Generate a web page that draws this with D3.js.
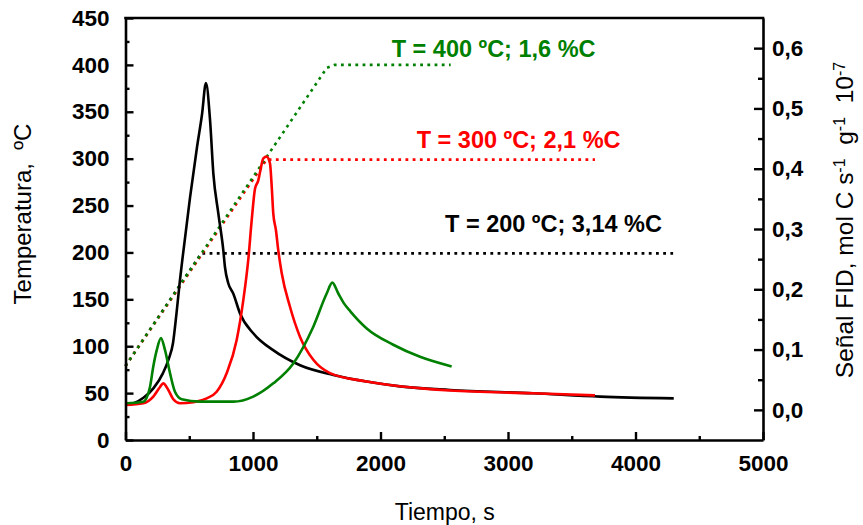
<!DOCTYPE html>
<html><head><meta charset="utf-8">
<script src="https://cdn.jsdelivr.net/npm/d3@7"></script>
<style>body{margin:0;background:#fff}svg{display:block}</style>
</head><body>
<svg id="c" width="863" height="525"></svg>
<script>
// ---- tick values ----
const xTicks = [0, 1000, 2000, 3000, 4000, 5000];
const xMinor = [500, 1500, 2500, 3500, 4500];
const yLeftTicks = [0, 50, 100, 150, 200, 250, 300, 350, 400, 450];
const yLeftMinor = [25, 75, 125, 175, 225, 275, 325, 375, 425];
const yRightTicks = [0, 0.1, 0.2, 0.3, 0.4, 0.5, 0.6];
const yRightMinor = [0.05, 0.15, 0.25, 0.35, 0.45, 0.55];

// ---- temperature programmes (left axis, ºC) ----
const temp200Time = [0, 594, 4295];
const temp200Val  = [79, 199, 199];
const temp300Time = [0, 1107, 3682];
const temp300Val  = [79, 299, 299];
const temp400Time = [0, 1580, 1640, 2550];
const temp400Val  = [79, 397, 400, 400];

// ---- FID signal (right axis) ----
const fid200Time = [0, 65, 141, 220, 294, 340, 372, 400, 427, 451, 506, 561, 600, 631, 663, 689, 728, 767, 780, 806, 845, 898, 1002, 1158, 1369, 1630, 1891, 2153, 2545, 3196, 3723, 4300];
const fid200Val  = [0.008, 0.011, 0.02, 0.036, 0.061, 0.085, 0.11, 0.16, 0.215, 0.258, 0.352, 0.436, 0.49, 0.542, 0.481, 0.392, 0.326, 0.265, 0.237, 0.21, 0.193, 0.16, 0.127, 0.099, 0.074, 0.058, 0.047, 0.039, 0.033, 0.0275, 0.022, 0.019];
const fid300Time = [0, 140, 218, 271, 296, 336, 375, 427, 532, 637, 715, 794, 872, 924, 963, 990, 1016, 1042, 1055, 1081, 1107, 1133, 1147, 1159, 1180, 1198, 1225, 1290, 1369, 1473, 1604, 1892, 2545, 3196, 3682];
const fid300Val  = [0.008, 0.011, 0.022, 0.038, 0.044, 0.033, 0.0176, 0.011, 0.0126, 0.019, 0.030, 0.061, 0.116, 0.182, 0.249, 0.315, 0.367, 0.381, 0.394, 0.417, 0.42, 0.409, 0.37, 0.326, 0.298, 0.265, 0.227, 0.171, 0.121, 0.083, 0.061, 0.047, 0.032, 0.0275, 0.024];
const fid400Time = [0, 140, 192, 218, 245, 278, 310, 349, 388, 441, 584, 845, 1002, 1159, 1316, 1473, 1578, 1622, 1669, 1712, 1765, 1892, 2100, 2310, 2558];
const fid400Val  = [0.011, 0.0136, 0.038, 0.072, 0.099, 0.119, 0.099, 0.061, 0.030, 0.0176, 0.0136, 0.0136, 0.022, 0.044, 0.077, 0.138, 0.193, 0.211, 0.193, 0.177, 0.163, 0.135, 0.108, 0.088, 0.072];

// ---- labels ----
const annoTexts = ["T = 400 ºC; 1,6 %C", "T = 300 ºC; 2,1 %C", "T = 200 ºC; 3,14 %C"];
const seriesColors = ["#008000", "#ff0000", "#000000"];

const svg = d3.select("#c");
const X0 = 125.5, X1 = 763, Y0 = 440, Y1 = 18;
const x = d3.scaleLinear().domain([0, 5000]).range([X0, X1]);
const yL = d3.scaleLinear().domain([0, 450]).range([Y0, Y1]);
const yR = d3.scaleLinear().domain([-0.05, 0.65]).range([Y0, Y1]);

const zip = (t, v) => t.map((d, i) => [d, v[i]]);
const lineL = d3.line().x(d => x(d[0])).y(d => yL(d[1]));
const lineR = d3.line().x(d => x(d[0])).y(d => yR(d[1])).curve(d3.curveMonotoneX);

const FONT = "'Liberation Sans', Arial, sans-serif";

// temperature dotted lines
const temps = [
  [temp200Time, temp200Val, "#000000"],
  [temp300Time, temp300Val, "#ff0000"],
  [temp400Time, temp400Val, "#008000"]
];
temps.forEach(([t, v, c]) => {
  svg.append("path").attr("d", lineL(zip(t, v)))
    .attr("fill", "none").attr("stroke", c).attr("stroke-width", 2.6)
    .attr("stroke-dasharray", "2.8,4.4");
});

// FID curves
const fids = [
  [fid200Time, fid200Val, "#000000"],
  [fid300Time, fid300Val, "#ff0000"],
  [fid400Time, fid400Val, "#008000"]
];
fids.forEach(([t, v, c]) => {
  svg.append("path").attr("d", lineR(zip(t, v)))
    .attr("fill", "none").attr("stroke", c).attr("stroke-width", 2.6)
    .attr("stroke-linejoin", "round");
});

function styleAxis(g, fs) {
  g.select(".domain").attr("stroke", "#000").attr("stroke-width", 2.6);
  g.selectAll(".tick line").attr("stroke", "#000").attr("stroke-width", 2.4);
  g.selectAll("text").attr("font-family", FONT).attr("font-weight", "bold")
    .attr("font-size", fs).attr("fill", "#000");
}

// minor ticks
svg.append("g").attr("transform", `translate(${X0},0)`)
  .call(d3.axisLeft(yL).tickValues(yLeftMinor).tickSize(-4).tickSizeOuter(0).tickFormat(""))
  .call(g => { g.select(".domain").remove(); g.selectAll("line").attr("stroke", "#000").attr("stroke-width", 2.4); });
svg.append("g").attr("transform", `translate(${X1},0)`)
  .call(d3.axisRight(yR).tickValues(yRightMinor).tickSize(-5).tickSizeOuter(0).tickFormat(""))
  .call(g => { g.select(".domain").remove(); g.selectAll("line").attr("stroke", "#000").attr("stroke-width", 2.4); });
svg.append("g").attr("transform", `translate(0,${Y0})`)
  .call(d3.axisBottom(x).tickValues(xMinor).tickSize(-4).tickSizeOuter(0).tickFormat(""))
  .call(g => { g.select(".domain").remove(); g.selectAll("line").attr("stroke", "#000").attr("stroke-width", 2.4); });

// major axes
svg.append("g").attr("transform", `translate(${X0},0)`)
  .call(d3.axisLeft(yL).tickValues(yLeftTicks).tickSize(-8).tickSizeOuter(0).tickPadding(16).tickFormat(d3.format("d")))
  .call(g => styleAxis(g, 22.5));
svg.append("g").attr("transform", `translate(${X1},0)`)
  .call(d3.axisRight(yR).tickValues(yRightTicks).tickSize(-9).tickSizeOuter(0).tickPadding(9).tickFormat(d => d3.format(".1f")(d).replace(".", ",")))
  .call(g => styleAxis(g, 22.5));
svg.append("g").attr("transform", `translate(0,${Y0})`)
  .call(d3.axisBottom(x).tickValues(xTicks).tickSize(-8).tickSizeOuter(0).tickPadding(15).tickFormat(d3.format("d")))
  .call(g => styleAxis(g, 22.5));

// top frame
svg.append("line").attr("x1", X0 - 1.3).attr("x2", X1 + 1.3).attr("y1", Y1).attr("y2", Y1)
  .attr("stroke", "#000").attr("stroke-width", 2.6);

// axis titles
svg.append("text").attr("x", (X0 + X1) / 2 + 0.5).attr("y", 520)
  .attr("text-anchor", "middle").attr("font-family", FONT).attr("font-size", 23)
  .text("Tiempo, s");
svg.append("text").attr("transform", "translate(31,214) rotate(-90)")
  .attr("text-anchor", "middle").attr("font-family", FONT).attr("font-size", 24)
  .text("Temperatura, \u00a0ºC");
const rt = svg.append("text").attr("transform", "translate(853,220) rotate(-90)")
  .attr("text-anchor", "middle").attr("font-family", FONT).attr("font-size", 24.5);
rt.append("tspan").text("Señal FID, mol C s");
rt.append("tspan").attr("baseline-shift", "super").attr("font-size", 16).text("-1");
rt.append("tspan").text("\u00a0 g");
rt.append("tspan").attr("baseline-shift", "super").attr("font-size", 16).text("-1");
rt.append("tspan").text("\u00a0 10");
rt.append("tspan").attr("baseline-shift", "super").attr("font-size", 16).text("-7");

// annotations
const annoPos = [[391.7, 57.3], [416.7, 148.3], [445, 231.7]];
annoTexts.forEach((s, i) => {
  svg.append("text").attr("x", annoPos[i][0]).attr("y", annoPos[i][1])
    .attr("font-family", FONT).attr("font-weight", "bold").attr("font-size", 23.5)
    .attr("fill", seriesColors[i]).text(s);
});
</script>
</body></html>
